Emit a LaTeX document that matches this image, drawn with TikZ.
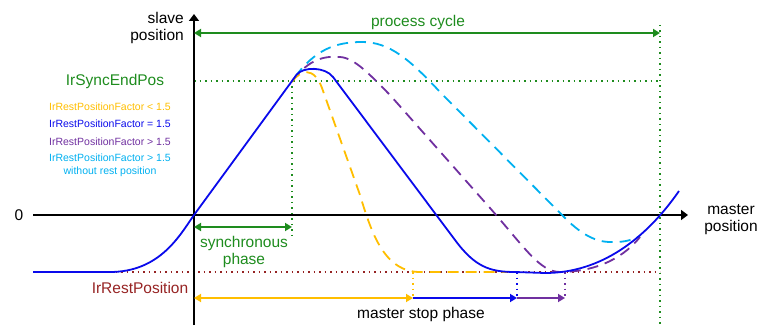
\documentclass[tikz,border=0pt]{standalone}
\usepackage{fontspec}
\setmainfont{Liberation Sans}
\usetikzlibrary{arrows.meta}
\definecolor{phgreen}{RGB}{30,140,30}
\definecolor{phyellow}{RGB}{255,190,0}
\definecolor{phblue}{RGB}{10,10,235}
\definecolor{phpurple}{RGB}{112,48,160}
\definecolor{phcyan}{RGB}{0,176,240}
\definecolor{phred}{RGB}{150,35,35}
\begin{document}
\begin{tikzpicture}[x=1pt,y=-1pt,
  lbl/.style={inner sep=0pt, font=\fontsize{15.5}{17}\selectfont, align=center},
  legend/.style={inner sep=0pt, font=\fontsize{10.5}{13}\selectfont, align=center},
  axis/.style={line width=2pt, -{Triangle[length=7pt,width=10pt]}},
  curve/.style={line width=1.8pt, line join=round},
  dashcurve/.style={curve, dash pattern=on 11pt off 7pt},
  guide/.style={line width=1.5pt, dash pattern=on 1.5pt off 4pt},
  span/.style={line width=1.8pt, {Triangle[length=7pt,width=8pt]}-{Triangle[length=7pt,width=8pt]}},
  stoparrow/.style={line width=1.8pt, -{Triangle[length=7pt,width=8pt]}},
]
\useasboundingbox (0,0) rectangle (763,331);

% key positions
\coordinate (o) at (194,215);
\coordinate (xs) at (33,215);
\coordinate (xe) at (688,215);
\coordinate (ys) at (194,325);
\coordinate (ye) at (194,14);
\coordinate (syncA) at (194,81);
\coordinate (syncB) at (660,81);
\coordinate (syncTop) at (292,81);
\coordinate (syncBot) at (292,237);
\coordinate (cycTop) at (660,25);
\coordinate (cycBot) at (660,325);
\coordinate (restA) at (110,272);
\coordinate (restB) at (660,272);
\coordinate (pcA) at (194,33);
\coordinate (pcB) at (660,33);
\coordinate (spA) at (194,227);
\coordinate (spB) at (292,227);
\coordinate (yTop) at (413,272);
\coordinate (yBot) at (413,298);
\coordinate (bTop) at (517,272);
\coordinate (bBot) at (517,298);
\coordinate (pTop) at (565,272);
\coordinate (pBot) at (565,298);
\coordinate (msA) at (194,298);

% labels
\node[lbl, anchor=east, align=right] (slave) at (184,28) {slave\\position};
\node[lbl] (master) at (731,220) {master\\position};
\node[lbl] (zero) at (19,215) {0};
\node[lbl, text=phgreen] (pc) at (418,22) {process cycle};
\node[lbl, text=phgreen] (sep) at (115,81) {IrSyncEndPos};
\node[legend, text=phyellow] (l1) at (110,107) {IrRestPositionFactor < 1.5};
\node[legend, text=phblue] (l2) at (110,124) {IrRestPositionFactor = 1.5};
\node[legend, text=phpurple] (l3) at (110,142) {IrRestPositionFactor > 1.5};
\node[legend, text=phcyan] (l4) at (110,165) {IrRestPositionFactor > 1.5\\without rest position};
\node[lbl, text=phgreen] (sp) at (244,251.5) {synchronous\\phase};
\node[lbl, text=phred] (rp) at (140,288) {IrRestPosition};
\node[lbl] (msp) at (421,314) {master stop phase};

% guide lines
\draw[guide, phgreen] (syncA) -- (syncB);
\draw[guide, phgreen] (syncTop) -- (syncBot);
\draw[guide, phgreen] (cycTop) -- (cycBot);
\draw[guide, phred] (restA) -- (restB);
\draw[guide, phyellow] (yTop) -- (yBot);
\draw[guide, phblue] (bTop) -- (bBot);
\draw[guide, phpurple] (pTop) -- (pBot);

% axes
\draw[axis] (xs) -- (xe);
\draw[axis] (ys) -- (ye);

% phase spans
\draw[span, phgreen] (pcA) -- (pcB);
\draw[span, phgreen] (spA) -- (spB);
\draw[span, phyellow] (msA) -- (yBot);
\draw[stoparrow, phblue] (yBot) -- (bBot);
\draw[stoparrow, phpurple] (bBot) -- (pBot);

% motion profiles
\draw[dashcurve, phcyan] (295,77) .. controls (315,50) and (335,42) .. (362,42)
  .. controls (390,42) and (410,60) .. (440,92) -- (565,218)
  .. controls (585,238) and (600,243) .. (615,242)
  .. controls (625,242) and (632,240) .. (640,236);
\draw[dashcurve, phpurple] (292,81) .. controls (310,58) and (325,56) .. (340,57)
  .. controls (355,58) and (370,75) .. (390,95) -- (490,208)
  .. controls (525,248) and (540,272) .. (560,272)
  .. controls (590,272) and (620,262) .. (640,237);
\draw[dashcurve, phyellow] (292,82) .. controls (300,70) and (314,66) .. (322,88)
  -- (360,195) .. controls (372,235) and (385,272) .. (420,272) -- (507,272);
\draw[curve, phblue] (33,272) -- (110,272) .. controls (160,272) and (180,235) .. (o)
  -- (296.4,75) .. controls (302.6,66.5) and (325.1,66.5) .. (333,77)
  -- (455,240) .. controls (475,267) and (490,272) .. (515,272)
  -- (545,273) .. controls (600,273) and (645,240) .. (679,191);
\end{tikzpicture}
\end{document}
